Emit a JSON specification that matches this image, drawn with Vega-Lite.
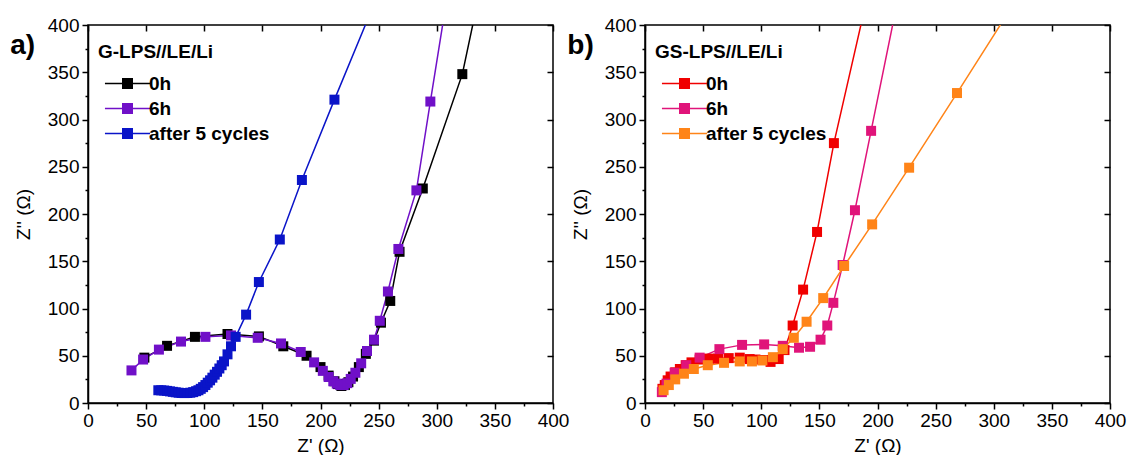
{
  "$schema": "https://vega.github.io/schema/vega-lite/v6.json",
  "padding": {"left": 9, "top": 15, "right": 5, "bottom": 0},
  "datasets": {
    "a": [
      {"s": "0h", "x": 48.5, "y": 48}, {"s": "0h", "x": 68, "y": 60.5}, {"s": "0h", "x": 92, "y": 70}, {"s": "0h", "x": 120, "y": 73}, {"s": "0h", "x": 147, "y": 70.5}, {"s": "0h", "x": 168, "y": 60}, {"s": "0h", "x": 188, "y": 50}, {"s": "0h", "x": 200, "y": 38}, {"s": "0h", "x": 207, "y": 29}, {"s": "0h", "x": 212, "y": 23}, {"s": "0h", "x": 215, "y": 20}, {"s": "0h", "x": 218, "y": 18}, {"s": "0h", "x": 221, "y": 19}, {"s": "0h", "x": 224, "y": 22}, {"s": "0h", "x": 228, "y": 28}, {"s": "0h", "x": 233, "y": 38}, {"s": "0h", "x": 239, "y": 52}, {"s": "0h", "x": 246, "y": 66}, {"s": "0h", "x": 252, "y": 85}, {"s": "0h", "x": 260, "y": 108}, {"s": "0h", "x": 268, "y": 160}, {"s": "0h", "x": 288, "y": 227}, {"s": "0h", "x": 322, "y": 348}, {"s": "0h", "x": 333, "y": 412},
      {"s": "6h", "x": 37.4, "y": 34.5}, {"s": "6h", "x": 47.4, "y": 46}, {"s": "6h", "x": 61, "y": 56.5}, {"s": "6h", "x": 80, "y": 65}, {"s": "6h", "x": 101, "y": 70}, {"s": "6h", "x": 123, "y": 71.5}, {"s": "6h", "x": 146, "y": 69}, {"s": "6h", "x": 166, "y": 63}, {"s": "6h", "x": 183, "y": 54}, {"s": "6h", "x": 194.5, "y": 43}, {"s": "6h", "x": 202, "y": 34}, {"s": "6h", "x": 207, "y": 27.5}, {"s": "6h", "x": 211, "y": 23}, {"s": "6h", "x": 214, "y": 20.5}, {"s": "6h", "x": 217, "y": 19}, {"s": "6h", "x": 220, "y": 19}, {"s": "6h", "x": 223, "y": 21}, {"s": "6h", "x": 226, "y": 25.5}, {"s": "6h", "x": 230, "y": 32}, {"s": "6h", "x": 235, "y": 42}, {"s": "6h", "x": 240, "y": 55}, {"s": "6h", "x": 246, "y": 67}, {"s": "6h", "x": 251, "y": 87}, {"s": "6h", "x": 258, "y": 118}, {"s": "6h", "x": 267, "y": 163}, {"s": "6h", "x": 282.5, "y": 225}, {"s": "6h", "x": 294.5, "y": 319}, {"s": "6h", "x": 307, "y": 415},
      {"s": "after 5 cycles", "x": 60.5, "y": 13.5}, {"s": "after 5 cycles", "x": 63, "y": 13.4}, {"s": "after 5 cycles", "x": 65.5, "y": 13.2}, {"s": "after 5 cycles", "x": 68, "y": 12.8}, {"s": "after 5 cycles", "x": 70.5, "y": 12.3}, {"s": "after 5 cycles", "x": 73, "y": 11.8}, {"s": "after 5 cycles", "x": 75.5, "y": 11.3}, {"s": "after 5 cycles", "x": 78, "y": 10.9}, {"s": "after 5 cycles", "x": 80.5, "y": 10.6}, {"s": "after 5 cycles", "x": 83, "y": 10.5}, {"s": "after 5 cycles", "x": 85.5, "y": 10.6}, {"s": "after 5 cycles", "x": 88, "y": 10.9}, {"s": "after 5 cycles", "x": 90.5, "y": 11.5}, {"s": "after 5 cycles", "x": 93, "y": 12.5}, {"s": "after 5 cycles", "x": 95, "y": 13.5}, {"s": "after 5 cycles", "x": 97, "y": 15}, {"s": "after 5 cycles", "x": 99, "y": 16.8}, {"s": "after 5 cycles", "x": 101, "y": 19}, {"s": "after 5 cycles", "x": 103, "y": 21.5}, {"s": "after 5 cycles", "x": 105, "y": 24}, {"s": "after 5 cycles", "x": 107, "y": 26.8}, {"s": "after 5 cycles", "x": 109, "y": 30}, {"s": "after 5 cycles", "x": 111, "y": 33}, {"s": "after 5 cycles", "x": 113, "y": 36.5}, {"s": "after 5 cycles", "x": 115, "y": 40}, {"s": "after 5 cycles", "x": 117, "y": 44}, {"s": "after 5 cycles", "x": 120, "y": 51.5}, {"s": "after 5 cycles", "x": 123, "y": 60}, {"s": "after 5 cycles", "x": 127, "y": 70}, {"s": "after 5 cycles", "x": 136, "y": 93.5}, {"s": "after 5 cycles", "x": 147, "y": 128}, {"s": "after 5 cycles", "x": 165, "y": 173}, {"s": "after 5 cycles", "x": 184, "y": 236}, {"s": "after 5 cycles", "x": 212, "y": 321}, {"s": "after 5 cycles", "x": 247, "y": 425}
    ],
    "b": [
      {"s": "0h", "x": 15, "y": 15}, {"s": "0h", "x": 17, "y": 19}, {"s": "0h", "x": 19.5, "y": 24}, {"s": "0h", "x": 22, "y": 28}, {"s": "0h", "x": 26, "y": 32.5}, {"s": "0h", "x": 30, "y": 36}, {"s": "0h", "x": 35, "y": 40}, {"s": "0h", "x": 40, "y": 43}, {"s": "0h", "x": 47, "y": 46}, {"s": "0h", "x": 55, "y": 47}, {"s": "0h", "x": 63, "y": 47}, {"s": "0h", "x": 72, "y": 47.5}, {"s": "0h", "x": 81.5, "y": 48}, {"s": "0h", "x": 90, "y": 46.5}, {"s": "0h", "x": 95, "y": 46}, {"s": "0h", "x": 102, "y": 45.5}, {"s": "0h", "x": 108, "y": 43.5}, {"s": "0h", "x": 115, "y": 46.5}, {"s": "0h", "x": 120, "y": 56}, {"s": "0h", "x": 127, "y": 82}, {"s": "0h", "x": 136, "y": 120}, {"s": "0h", "x": 148, "y": 181}, {"s": "0h", "x": 162.5, "y": 275}, {"s": "0h", "x": 188.5, "y": 415},
      {"s": "6h", "x": 14.5, "y": 11.5}, {"s": "6h", "x": 18.5, "y": 20.5}, {"s": "6h", "x": 25.5, "y": 32}, {"s": "6h", "x": 35.5, "y": 40}, {"s": "6h", "x": 47, "y": 48}, {"s": "6h", "x": 64, "y": 57}, {"s": "6h", "x": 83.5, "y": 61.5}, {"s": "6h", "x": 102.5, "y": 62}, {"s": "6h", "x": 118.5, "y": 60.5}, {"s": "6h", "x": 132.5, "y": 58.5}, {"s": "6h", "x": 142, "y": 59.5}, {"s": "6h", "x": 151, "y": 67}, {"s": "6h", "x": 156.8, "y": 82}, {"s": "6h", "x": 162, "y": 106}, {"s": "6h", "x": 170, "y": 146}, {"s": "6h", "x": 180.6, "y": 204}, {"s": "6h", "x": 194.5, "y": 288}, {"s": "6h", "x": 215, "y": 412},
      {"s": "after 5 cycles", "x": 16, "y": 13.5}, {"s": "after 5 cycles", "x": 20.5, "y": 19}, {"s": "after 5 cycles", "x": 26, "y": 25}, {"s": "after 5 cycles", "x": 33.5, "y": 31}, {"s": "after 5 cycles", "x": 42, "y": 36}, {"s": "after 5 cycles", "x": 54, "y": 40}, {"s": "after 5 cycles", "x": 68, "y": 42.5}, {"s": "after 5 cycles", "x": 81.5, "y": 44}, {"s": "after 5 cycles", "x": 92, "y": 44}, {"s": "after 5 cycles", "x": 101, "y": 45}, {"s": "after 5 cycles", "x": 110, "y": 48.5}, {"s": "after 5 cycles", "x": 118.5, "y": 57}, {"s": "after 5 cycles", "x": 128, "y": 69}, {"s": "after 5 cycles", "x": 139, "y": 86}, {"s": "after 5 cycles", "x": 153.3, "y": 111}, {"s": "after 5 cycles", "x": 171.3, "y": 145}, {"s": "after 5 cycles", "x": 195.4, "y": 189}, {"s": "after 5 cycles", "x": 227.2, "y": 249}, {"s": "after 5 cycles", "x": 268.4, "y": 328}, {"s": "after 5 cycles", "x": 317, "y": 422}
    ]
  },
  "hconcat": [
    {
      "width": 465, "height": 378,
      "data": {"name": "a"},
      "title": {"text": "a)", "anchor": "start", "frame": "bounds", "fontSize": 28, "fontWeight": "bold", "dx": -4, "offset": -44},
      "layer": [
        {"mark": {"type": "line", "clip": true, "strokeWidth": 1.5},
         "encoding": {
           "x": {"field": "x", "type": "quantitative", "scale": {"domain": [0, 400], "nice": false, "zero": false}, "axis": {"orient": "bottom", "values": [0, 50, 100, 150, 200, 250, 300, 350, 400], "title": "Z' (Ω)", "tickSize": 6, "labelPadding": 2, "titlePadding": 6}},
           "y": {"field": "y", "type": "quantitative", "scale": {"domain": [0, 400], "nice": false, "zero": false}, "axis": {"orient": "left", "values": [0, 50, 100, 150, 200, 250, 300, 350, 400], "title": "Z'' (Ω)", "tickSize": 6, "labelPadding": 3, "titlePadding": 14}},
           "color": {"field": "s", "type": "nominal", "scale": {"domain": ["0h", "6h", "after 5 cycles"], "range": ["#000000", "#7010C8", "#0A14C8"]}}
         }},
        {"mark": {"type": "point", "shape": "square", "filled": true, "size": 100, "opacity": 1, "clip": true},
         "encoding": {
           "x": {"field": "x", "type": "quantitative", "axis": {"orient": "bottom", "values": [25, 75, 125, 175, 225, 275, 325, 375], "labels": false, "title": null, "tickSize": 3, "domain": false}},
           "y": {"field": "y", "type": "quantitative", "axis": {"orient": "left", "values": [25, 75, 125, 175, 225, 275, 325, 375], "labels": false, "title": null, "tickSize": 3, "domain": false}},
           "color": {"field": "s", "type": "nominal", "legend": {"title": "G-LPS//LE/Li", "orient": "none", "legendX": 10, "legendY": 18}}
         }},
        {"mark": {"type": "point", "opacity": 0, "clip": true},
         "encoding": {
           "x": {"field": "x", "type": "quantitative", "axis": {"orient": "top", "values": [0, 50, 100, 150, 200, 250, 300, 350, 400], "labels": false, "title": null, "tickSize": -6, "domain": false, "minExtent": 0, "maxExtent": 0}},
           "y": {"field": "y", "type": "quantitative", "axis": {"orient": "right", "values": [0, 50, 100, 150, 200, 250, 300, 350, 400], "labels": false, "title": null, "tickSize": -6, "domain": false, "minExtent": 0, "maxExtent": 0}}
         }}
      ],
      "resolve": {"axis": {"x": "independent", "y": "independent"}}
    },
    {
      "width": 465, "height": 378,
      "data": {"name": "b"},
      "title": {"text": "b)", "anchor": "start", "frame": "bounds", "fontSize": 28, "fontWeight": "bold", "dx": -4, "offset": -44},
      "layer": [
        {"mark": {"type": "line", "clip": true, "strokeWidth": 1.5},
         "encoding": {
           "x": {"field": "x", "type": "quantitative", "scale": {"domain": [0, 400], "nice": false, "zero": false}, "axis": {"orient": "bottom", "values": [0, 50, 100, 150, 200, 250, 300, 350, 400], "title": "Z' (Ω)", "tickSize": 6, "labelPadding": 2, "titlePadding": 6}},
           "y": {"field": "y", "type": "quantitative", "scale": {"domain": [0, 400], "nice": false, "zero": false}, "axis": {"orient": "left", "values": [0, 50, 100, 150, 200, 250, 300, 350, 400], "title": "Z'' (Ω)", "tickSize": 6, "labelPadding": 3, "titlePadding": 14}},
           "color": {"field": "s", "type": "nominal", "scale": {"domain": ["0h", "6h", "after 5 cycles"], "range": ["#F00000", "#E0147A", "#FF8418"]}}
         }},
        {"mark": {"type": "point", "shape": "square", "filled": true, "size": 100, "opacity": 1, "clip": true},
         "encoding": {
           "x": {"field": "x", "type": "quantitative", "axis": {"orient": "bottom", "values": [25, 75, 125, 175, 225, 275, 325, 375], "labels": false, "title": null, "tickSize": 3, "domain": false}},
           "y": {"field": "y", "type": "quantitative", "axis": {"orient": "left", "values": [25, 75, 125, 175, 225, 275, 325, 375], "labels": false, "title": null, "tickSize": 3, "domain": false}},
           "color": {"field": "s", "type": "nominal", "legend": {"title": "GS-LPS//LE/Li", "orient": "none", "legendX": 10, "legendY": 18}}
         }},
        {"mark": {"type": "point", "opacity": 0, "clip": true},
         "encoding": {
           "x": {"field": "x", "type": "quantitative", "axis": {"orient": "top", "values": [0, 50, 100, 150, 200, 250, 300, 350, 400], "labels": false, "title": null, "tickSize": -6, "domain": false, "minExtent": 0, "maxExtent": 0}},
           "y": {"field": "y", "type": "quantitative", "axis": {"orient": "right", "values": [0, 50, 100, 150, 200, 250, 300, 350, 400], "labels": false, "title": null, "tickSize": -6, "domain": false, "minExtent": 0, "maxExtent": 0}}
         }}
      ],
      "resolve": {"axis": {"x": "independent", "y": "independent"}}
    }
  ],
  "spacing": 92,
  "bounds": "flush",
  "resolve": {"scale": {"color": "independent"}, "legend": {"color": "independent"}},
  "config": {
    "font": "Liberation Sans",
    "view": {"stroke": "black", "strokeWidth": 1.5},
    "title": {"color": "black"},
    "axis": {"grid": false, "labelFontSize": 19, "titleFontSize": 19, "titleFontWeight": "normal", "labelColor": "black", "titleColor": "black", "domainColor": "black", "tickColor": "black", "domainWidth": 1.5, "tickWidth": 1.5, "labelFlush": false},
    "legend": {"titleFontSize": 19, "titleFontWeight": "bold", "titleColor": "black", "labelFontSize": 19, "labelFontWeight": "bold", "labelColor": "black", "symbolType": "M-4.1,-0.14H4.1V0.14H-4.1Z M-1,-1H1V1H-1Z", "symbolSize": 121, "symbolOffset": 20, "labelOffset": 12, "rowPadding": 5, "titlePadding": 12, "symbolStrokeWidth": 0, "symbolOpacity": 1}
  }
}
